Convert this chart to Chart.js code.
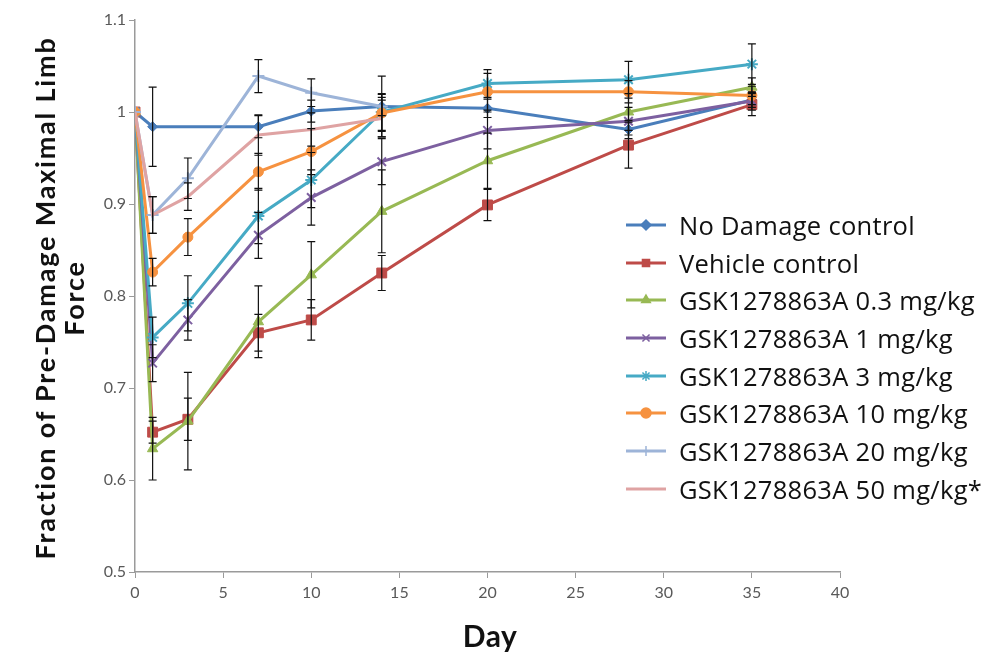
<!DOCTYPE html>
<html><head><meta charset="utf-8">
<script src="https://cdn.jsdelivr.net/npm/chart.js@4/dist/chart.umd.min.js"></script>
<style>
html,body{margin:0;padding:0;background:#fff;}
#wrap{position:relative;width:989px;height:656px;overflow:hidden;}
#c{position:absolute;left:0;top:0;}
#ytitle{position:absolute;left:-240px;top:268px;width:600px;height:60px;transform:rotate(-90deg);transform-origin:50% 50%;
  font-family:Lato,"Open Sans",sans-serif;font-weight:bold;font-size:27px;letter-spacing:1.8px;line-height:29px;text-align:center;color:#111;}
#xtitle{position:absolute;left:430px;top:617px;width:120px;text-align:center;font-family:Lato,sans-serif;font-weight:bold;font-size:30px;letter-spacing:0.5px;color:#111;}
#legend{position:absolute;left:626px;top:206px;font-family:"Open Sans",Lato,sans-serif;font-size:25.5px;letter-spacing:0.3px;color:#111;}
.row{height:37.7px;display:flex;align-items:center;white-space:nowrap;}
.row canvas{margin-right:13px;}
</style></head>
<body>
<div id="wrap">
<canvas id="c" width="989" height="656"></canvas>
<div id="ytitle">Fraction of Pre-Damage Maximal Limb<br>Force</div>
<div id="xtitle">Day</div>
<div id="legend"></div>
</div>
<script>
const days = [0, 1, 3, 7, 10, 14, 20, 28, 35];
const seriesNames = ["No Damage control","Vehicle control","GSK1278863A 0.3 mg/kg","GSK1278863A 1 mg/kg","GSK1278863A 3 mg/kg","GSK1278863A 10 mg/kg","GSK1278863A 20 mg/kg","GSK1278863A 50 mg/kg*"];
const noDamage    = [1.000, 0.984, null,  0.984, 1.001, 1.006, 1.004, 0.981, 1.013];
const noDamageErr = [0,     0.043, 0,     0.012, 0.012, 0.010, 0.010, 0.010, 0.008];
const vehicle     = [1.000, 0.652, 0.666, 0.760, 0.774, 0.825, 0.899, 0.964, 1.008];
const vehicleErr  = [0,     0.012, 0.023, 0.020, 0.022, 0.019, 0.017, 0.025, 0.012];
const dose03      = [1.000, 0.634, 0.664, 0.772, 0.823, 0.892, 0.947, 1.000, 1.027];
const dose03Err   = [0,     0.034, 0.053, 0.039, 0.036, 0.045, 0.030, 0.020, 0.010];
const dose1       = [1.000, 0.727, 0.774, 0.866, 0.907, 0.946, 0.980, 0.990, 1.012];
const dose1Err    = [0,     0.020, 0.022, 0.025, 0.030, 0.025, 0.020, 0.015, 0.010];
const dose3       = [1.000, 0.755, 0.792, 0.887, 0.926, 1.000, 1.031, 1.035, 1.052];
const dose3Err    = [0,     0.022, 0.030, 0.030, 0.030, 0.020, 0.015, 0.020, 0.022];
const dose10      = [1.000, 0.826, 0.864, 0.935, 0.957, 0.999, 1.022, 1.022, 1.018];
const dose10Err   = [0,     0.015, 0.020, 0.020, 0.025, 0.020, 0.020, 0.012, 0.010];
const dose20      = [1.000, 0.888, 0.928, 1.039, 1.021, 1.006, null,  null,  null];
const dose20Err   = [0,     0.020, 0.022, 0.018, 0.015, 0.033, 0,     0,     0];
const dose50      = [1.000, 0.888, 0.908, 0.975, 0.981, 0.993, null,  null,  null];
const dose50Err   = [0,     0.020, 0.015, 0.022, 0.018, 0.020, 0,     0,     0];
const xTicks = [0, 5, 10, 15, 20, 25, 30, 35, 40];
const yTicks = [0.5, 0.6, 0.7, 0.8, 0.9, 1, 1.1];

const values = [noDamage, vehicle, dose03, dose1, dose3, dose10, dose20, dose50];
const errors = [noDamageErr, vehicleErr, dose03Err, dose1Err, dose3Err, dose10Err, dose20Err, dose50Err];
const colors = ["#4A7EBB","#BE4B48","#98B954","#7D60A0","#46AAC5","#F69240","#9DB4D8","#DFA3A3"];
const styles = ["rectRot","rect","triangle","crossRot","star","circle","cross",false];
const radii  = [5, 7, 6, 6, 6, 5, 6, 0];

function pts(arr){ const o=[]; arr.forEach((v,i)=>{ if(v!==null) o.push({x:days[i], y:v}); }); return o; }

const datasets = values.map((arr, k) => ({
  label: seriesNames[k],
  data: pts(arr),
  borderColor: colors[k],
  backgroundColor: colors[k],
  borderWidth: 3,
  pointStyle: styles[k],
  pointRadius: radii[k],
  pointBorderWidth: (styles[k]==='crossRot'||styles[k]==='star'||styles[k]==='cross') ? 2 : 1,
  pointBorderColor: colors[k],
  pointBackgroundColor: colors[k],
  showLine: true,
  tension: 0,
  order: 10 - k
}));

const errorBars = {
  id: 'errorBars',
  afterDatasetsDraw(chart){
    const ctx = chart.ctx, xs = chart.scales.x, ys = chart.scales.y;
    ctx.save();
    ctx.strokeStyle = '#111';
    ctx.lineWidth = 1.2;
    values.forEach((arr, k) => {
      arr.forEach((v, i) => {
        const e = errors[k][i];
        if (v === null || !e) return;
        const x = xs.getPixelForValue(days[i]);
        const y1 = ys.getPixelForValue(v + e), y2 = ys.getPixelForValue(v - e);
        ctx.beginPath();
        ctx.moveTo(x, y1); ctx.lineTo(x, y2);
        ctx.moveTo(x - 4, y1); ctx.lineTo(x + 4, y1);
        ctx.moveTo(x - 4, y2); ctx.lineTo(x + 4, y2);
        ctx.stroke();
      });
    });
    ctx.restore();
  }
};

const tickFont = {family: 'Lato, sans-serif', size: 16};
new Chart(document.getElementById('c'), {
  type: 'scatter',
  data: { datasets },
  options: {
    responsive: false,
    animation: false,
    events: [],
    layout: { padding: { left: 0, top: 20, right: 149, bottom: 0 } },
    plugins: { legend: { display: false }, tooltip: { enabled: false } },
    scales: {
      x: {
        type: 'linear', min: 0, max: 40,
        afterBuildTicks: s => { s.ticks = xTicks.map(v => ({value: v})); },
        afterFit: s => { s.height = 84; },
        ticks: { color: '#595959', font: tickFont, padding: 5, maxRotation: 0 },
        grid: { drawOnChartArea: false, drawTicks: true, tickLength: 6, color: '#9a9a9a' },
        border: { color: '#9a9a9a', width: 1.5 }
      },
      y: {
        type: 'linear', min: 0.5, max: 1.1,
        afterBuildTicks: s => { s.ticks = yTicks.map(v => ({value: v})); },
        afterFit: s => { s.width = 135; },
        ticks: { color: '#595959', font: tickFont, padding: 3, callback: v => String(Math.round(v*10)/10) },
        grid: { drawOnChartArea: false, drawTicks: true, tickLength: 6, color: '#9a9a9a' },
        border: { color: '#9a9a9a', width: 1.5 }
      }
    }
  },
  plugins: [errorBars]
});

// HTML legend
const leg = document.getElementById('legend');
seriesNames.forEach((name, k) => {
  const row = document.createElement('div'); row.className = 'row';
  const cv = document.createElement('canvas'); cv.width = 40; cv.height = 20;
  const g = cv.getContext('2d');
  g.strokeStyle = colors[k]; g.lineWidth = 3;
  g.beginPath(); g.moveTo(0, 10); g.lineTo(40, 10); g.stroke();
  if (styles[k] && Chart.helpers && Chart.helpers.drawPoint) {
    g.fillStyle = colors[k]; g.lineWidth = 1.5;
    Chart.helpers.drawPoint(g, {pointStyle: styles[k], radius: Math.min(radii[k], 5), rotation: 0, borderWidth: 1.5}, 20, 10);
  }
  row.appendChild(cv);
  const sp = document.createElement('span'); sp.textContent = name; row.appendChild(sp);
  leg.appendChild(row);
});
</script>
</body></html>
